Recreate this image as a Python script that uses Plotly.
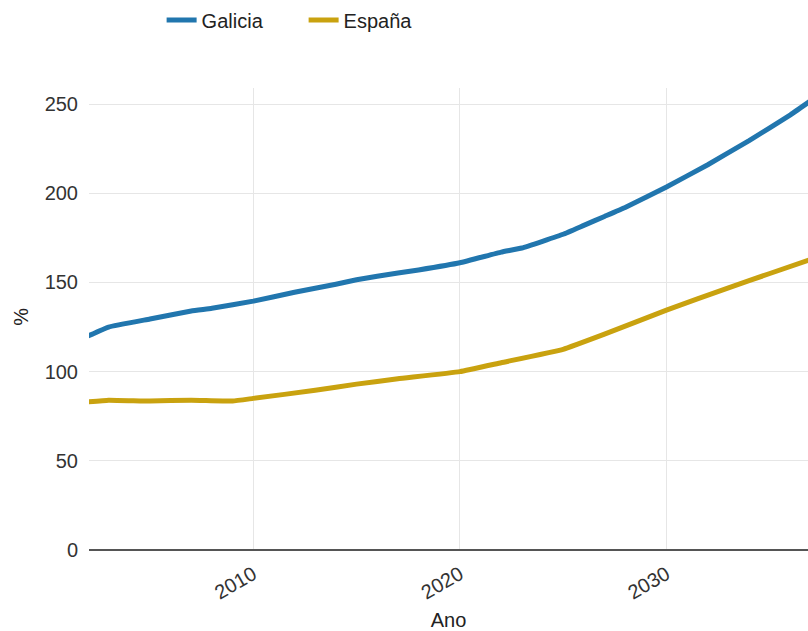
import plotly.graph_objects as go

years = [2002, 2003, 2005, 2007, 2008, 2010, 2012, 2014, 2015, 2016, 2018, 2020, 2022, 2023,
         2025, 2026, 2027, 2028, 2030, 2032, 2034, 2036, 2037]
galicia = [120, 125, 129.5, 134, 135.5, 139.5, 144.5, 149, 151.5, 153.5, 157, 161, 167, 169.3,
           177, 182, 187, 192, 203.5, 216, 229.5, 244, 252]
espana_years = [2002, 2003, 2005, 2007, 2009, 2010, 2013, 2015, 2017, 2020, 2022, 2025, 2027,
                2030, 2033, 2035, 2037]
espana = [83, 84, 83.5, 84, 83.5, 85, 89.5, 93, 96, 100, 105, 112.5, 121, 134.5, 147, 155, 163]

x_ticks = [2010, 2020, 2030]
y_ticks = [0, 50, 100, 150, 200, 250]

fig = go.Figure()
fig.add_trace(go.Scatter(x=years, y=galicia, mode="lines", name="Galicia",
                         line=dict(color="#2176ae", width=5, shape="spline", smoothing=0.3)))
fig.add_trace(go.Scatter(x=espana_years, y=espana, mode="lines", name="España",
                         line=dict(color="#c9a20f", width=5, shape="spline", smoothing=0.3)))

font = dict(family="Liberation Sans, Arial, sans-serif", size=20, color="#333333")
fig.update_layout(
    width=808, height=631,
    margin=dict(l=89, r=0, t=88, b=81),
    paper_bgcolor="white", plot_bgcolor="white",
    font=font,
    showlegend=True,
    legend=dict(orientation="h", x=0.101, xanchor="left", y=1.147, yanchor="middle",
                font=dict(size=20, color="#222222"),
                entrywidth=97, entrywidthmode="pixels"),
    xaxis=dict(range=[2002.05, 2036.85], tickvals=x_ticks, tickangle=-30,
               showgrid=True, gridcolor="#e6e6e6", gridwidth=1, automargin=False,
               showline=False, zeroline=False,
               ticks="outside", ticklen=4, tickcolor="rgba(0,0,0,0)",
               tickfont=dict(size=20, color="#333333"),
               title=dict(text="Ano", font=dict(size=20, color="#222222"), standoff=12)),
    yaxis=dict(range=[0, 259], tickvals=y_ticks, showgrid=True, gridcolor="#e6e6e6",
               zeroline=True, zerolinecolor="#555555", zerolinewidth=2, automargin=False,
               showline=False, ticks="outside", ticklen=6, tickcolor="rgba(0,0,0,0)",
               tickfont=dict(size=20, color="#333333")),
    annotations=[dict(text="%", textangle=-90, xref="paper", yref="paper",
                      x=-0.095, y=0.504, xanchor="center", yanchor="middle",
                      showarrow=False, font=dict(size=20, color="#222222"))],
)
fig.write_html("out.html", config={"displayModeBar": False},
               post_script="document.body.style.margin='0';document.body.style.overflow='hidden';")
